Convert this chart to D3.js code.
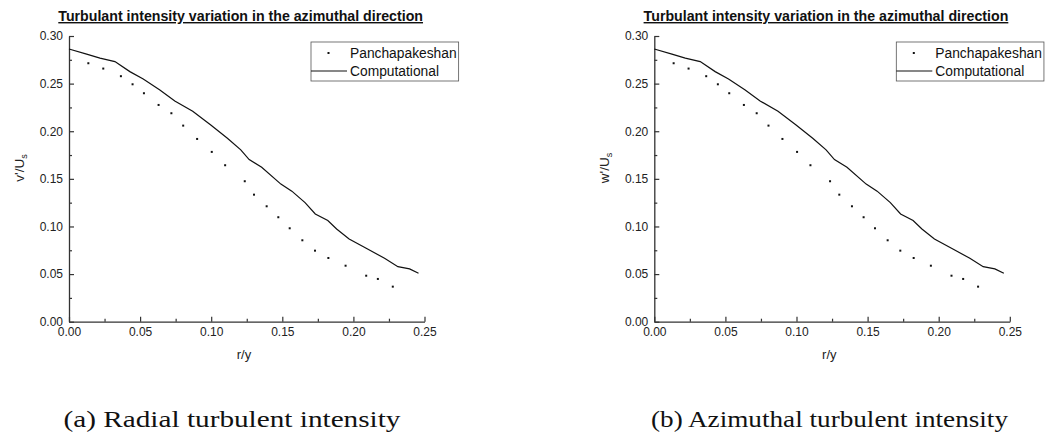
<!DOCTYPE html>
<html>
<head>
<meta charset="utf-8">
<script src="https://cdn.jsdelivr.net/npm/d3@7"></script>
<style>
  body { margin: 0; background: #fff; }
  svg { display: block; }
  .tick text { font-family: "Liberation Sans", Arial, sans-serif; font-size: 12px; fill: #222; }
</style>
</head>
<body>
<svg width="1054" height="434"></svg>
<script>
var measX = [0.0136, 0.0241, 0.0365, 0.0447, 0.0527, 0.0630, 0.0720, 0.0803, 0.0901, 0.1004,
  0.1098, 0.1236, 0.1301, 0.1390, 0.1472, 0.1552, 0.1641, 0.1730, 0.1824, 0.1945,
  0.2090, 0.2172, 0.2277];
var measY = [0.2714, 0.2658, 0.2578, 0.2493, 0.2399, 0.2276, 0.2189, 0.2059, 0.1919, 0.1783,
  0.1643, 0.1475, 0.1334, 0.1212, 0.1097, 0.0981, 0.0855, 0.0746, 0.0669, 0.0588,
  0.0483, 0.0449, 0.0368];

// computational curve
var compX = [0, 0.0124, 0.0218, 0.0323, 0.0428, 0.0522, 0.0639, 0.0744, 0.0870, 0.0997,
  0.1114, 0.1208, 0.1267, 0.1355, 0.1490, 0.1567, 0.1660, 0.1732, 0.1820, 0.1882,
  0.1970, 0.2090, 0.2219, 0.2313, 0.2395, 0.2458];
var compY = [0.2864, 0.2809, 0.2767, 0.2731, 0.2626, 0.2549, 0.2434, 0.2318, 0.2210, 0.2066,
  0.1926, 0.1804, 0.1702, 0.1622, 0.1445, 0.1371, 0.1250, 0.1131, 0.1063, 0.0974,
  0.0868, 0.0771, 0.0666, 0.0578, 0.0554, 0.0508];

var xTicks = [0, 0.05, 0.10, 0.15, 0.20, 0.25];
var xMinor = [0.025, 0.075, 0.125, 0.175, 0.225];
var yTicks = [0, 0.05, 0.10, 0.15, 0.20, 0.25, 0.30];
var yMinor = [0.025, 0.075, 0.125, 0.175, 0.225, 0.275];

var seriesNames = ["Panchapakeshan", "Computational"];
var chartTitle = "Turbulant intensity variation in the azimuthal direction";
var yLabels = ["v'", "w'"];
var captions = ["(a) Radial turbulent intensity", "(b) Azimuthal turbulent intensity"];

var svg = d3.select("svg");
var sans = '"Liberation Sans", Arial, sans-serif';

var panels = [
  { ox: 0, capX: 232, capW: 337 },
  { ox: 585.3, capX: 829.5, capW: 357 }
];

var x = d3.scaleLinear().domain([0, 0.25]).range([69, 424.5]);
var y = d3.scaleLinear().domain([0, 0.30]).range([321.7, 36]);

var fmt = d3.format(".2f");

var measData = measX.map(function (d, i) { return [d, measY[i]]; });
var compData = compX.map(function (d, i) { return [d, compY[i]]; });

var line = d3.line()
  .x(function (d) { return x(d[0]); })
  .y(function (d) { return y(d[1]); });

panels.forEach(function (p, pi) {
  var g = svg.append("g").attr("transform", "translate(" + p.ox + ",0)");

  // title
  g.append("text")
    .attr("x", 58.3)
    .attr("y", 21)
    .attr("font-family", sans)
    .attr("font-size", 14.2)
    .attr("font-weight", "bold")
    .attr("text-decoration", "underline")
    .attr("fill", "#111")
    .text(chartTitle);

  // minor ticks
  g.append("g")
    .attr("transform", "translate(0," + y(0) + ")")
    .call(d3.axisBottom(x).tickValues(xMinor).tickSize(-3).tickFormat(""))
    .call(function (a) { a.select(".domain").remove(); a.selectAll("line").attr("stroke", "#333").attr("stroke-width", 1.2); });
  g.append("g")
    .attr("transform", "translate(" + x(0) + ",0)")
    .call(d3.axisLeft(y).tickValues(yMinor).tickSize(-3).tickFormat(""))
    .call(function (a) { a.select(".domain").remove(); a.selectAll("line").attr("stroke", "#333").attr("stroke-width", 1.2); });

  // major axes
  g.append("g")
    .attr("transform", "translate(0," + y(0) + ")")
    .call(d3.axisBottom(x).tickValues(xTicks).tickSize(-5).tickSizeOuter(0).tickPadding(6).tickFormat(fmt))
    .call(function (a) {
      a.select(".domain").attr("stroke", "#333").attr("stroke-width", 1.3);
      a.selectAll("line").attr("stroke", "#333").attr("stroke-width", 1.2);
    });
  g.append("g")
    .attr("transform", "translate(" + x(0) + ",0)")
    .call(d3.axisLeft(y).tickValues(yTicks).tickSize(-5).tickSizeOuter(0).tickPadding(6).tickFormat(fmt))
    .call(function (a) {
      a.select(".domain").attr("stroke", "#333").attr("stroke-width", 1.3);
      a.selectAll("line").attr("stroke", "#333").attr("stroke-width", 1.2);
    });

  // axis labels
  g.append("text")
    .attr("x", 244)
    .attr("y", 359)
    .attr("text-anchor", "middle")
    .attr("font-family", sans)
    .attr("font-size", 13)
    .attr("fill", "#222")
    .text("r/y");

  var yl = g.append("text")
    .attr("transform", "translate(24,168) rotate(-90)")
    .attr("text-anchor", "middle")
    .attr("font-family", sans)
    .attr("font-size", 13.5)
    .attr("fill", "#222");
  yl.append("tspan").text(yLabels[pi] + "/U");
  yl.append("tspan").attr("font-size", 9).attr("dy", 3).text("s");

  // computational line
  g.append("path")
    .datum(compData)
    .attr("fill", "none")
    .attr("stroke", "#111")
    .attr("stroke-width", 1.2)
    .attr("d", line);

  // measured points
  g.selectAll(".pt")
    .data(measData)
    .enter()
    .append("rect")
    .attr("class", "pt")
    .attr("x", function (d) { return x(d[0]) - 1; })
    .attr("y", function (d) { return y(d[1]) - 1; })
    .attr("width", 2)
    .attr("height", 2)
    .attr("fill", "#111");

  // legend
  var lg = g.append("g");
  var box = lg.append("rect")
    .attr("x", 311)
    .attr("y", 42)
    .attr("height", 39)
    .attr("fill", "#fff")
    .attr("stroke", "#555")
    .attr("stroke-width", 0.8);
  lg.append("rect")
    .attr("x", 327.5).attr("y", 52).attr("width", 2).attr("height", 2).attr("fill", "#111");
  lg.append("line")
    .attr("x1", 311).attr("x2", 347).attr("y1", 71).attr("y2", 71)
    .attr("stroke", "#111").attr("stroke-width", 1.2);
  var w = 0;
  seriesNames.forEach(function (s, i) {
    var t = lg.append("text")
      .attr("x", 350)
      .attr("y", 53 + i * 18)
      .attr("dy", "0.35em")
      .attr("font-family", sans)
      .attr("font-size", 13.8)
      .attr("fill", "#111")
      .text(s);
    w = Math.max(w, t.node().getComputedTextLength());
  });
  box.attr("width", 350 + w + 2 - 311);

  // caption
  svg.append("text")
    .attr("x", p.capX)
    .attr("y", 427)
    .attr("text-anchor", "middle")
    .attr("font-family", '"Liberation Serif", "Times New Roman", serif')
    .attr("font-size", 24)
    .attr("textLength", p.capW)
    .attr("lengthAdjust", "spacingAndGlyphs")
    .attr("fill", "#111")
    .text(captions[pi]);
});
</script>
</body>
</html>
